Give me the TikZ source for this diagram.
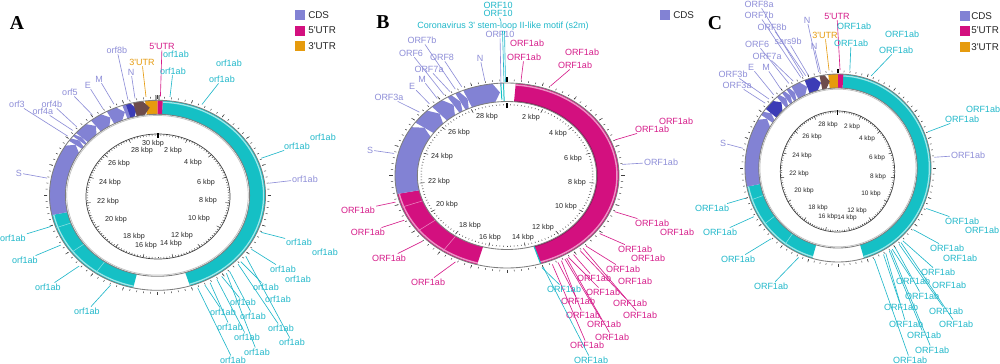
\documentclass[tikz,border=0pt]{standalone}
\usepackage{fontspec}
\setmainfont{Liberation Sans}
\newfontfamily\letterfont{Liberation Serif}
\usetikzlibrary{calc}
\definecolor{lav}{HTML}{8282D4}
\definecolor{lavT}{HTML}{8E8ED8}
\definecolor{cyn}{HTML}{15C0C5}
\definecolor{cynT}{HTML}{20B8CA}
\definecolor{mag}{HTML}{D3107F}
\definecolor{magT}{HTML}{D61C8A}
\definecolor{org}{HTML}{E69B0E}
\definecolor{brn}{HTML}{6D4C4C}
\definecolor{dkb}{HTML}{3C3CB6}
\definecolor{rimg}{HTML}{7E7E7E}
\tikzset{
 lbl/.style={font=\fontsize{6.4}{7}\selectfont, inner sep=0.6pt},
 kbp/.style={font=\fontsize{5.1}{6}\selectfont, text=black!85, inner sep=0pt},
 kbpc/.style={font=\fontsize{4.6}{5}\selectfont, text=black!85, inner sep=0pt},
 leader/.style={line width=0.45pt},
 tk/.style={line width=0.35pt, black!75},
 rimline/.style={draw=rimg, line width=0.6pt},
 legtxt/.style={font=\fontsize{7}{8}\selectfont, anchor=west, inner sep=0pt, text=black!85},
 legbox/.style={minimum size=2.5mm, inner sep=0pt},
 panel/.style={font=\letterfont\bfseries\fontsize{14}{16}\selectfont, inner sep=0pt},
}
\newcommand\bandseg[5]{\fill[#1] (#2:#4) arc[start angle=#2,end angle=#3,radius=#4] -- (#3:#5) arc[start angle=#3,end angle=#2,radius=#5] -- cycle;}
\newcommand\cdsseg[5]{%
 \pgfmathsetmacro\cdsS{#3+min(3.5,(#2-#3)*0.5)}%
 \pgfmathsetmacro\cdsM{(#4+#5)/2}%
 \fill[#1] (#2:#4) arc[start angle=#2,end angle=\cdsS,radius=#4] -- (#3:\cdsM) -- (\cdsS:#5) arc[start angle=\cdsS,end angle=#2,radius=#5] -- cycle;}
\newcommand\mylab[5]{\node[lbl,text=#4] (#1) at (#2,#3) {#5};}
\newcommand\myleadP[6]{\node[lbl,text=#4] (#1) at (#2,#3) {#5};
 \pgfmathsetmacro\ppx{\cx+\rrx*cos(#6)}\pgfmathsetmacro\ppy{\cy-\rry*sin(#6)}%
 \coordinate (#1r) at (\ppx,\ppy); \draw[leader,#4] (#1r) -- (#1);}
\newcommand\q{\textquotesingle}
\begin{document}
\begin{tikzpicture}[x=0.25mm,y=-0.25mm]
\useasboundingbox (0,0) rectangle (1000,363);
\fill[white] (0,0) rectangle (1000,363);

% ================= PANEL A =================
\begin{scope}[shift={(157.5,195.3)},xscale=1.137,yscale=-1]
\bandseg{cyn}{87.2}{-72.5}{95}{81}
\bandseg{cyn}{-103}{-168}{95}{81}
\draw[cyn!40!white,line width=0.9pt] (87.2:93.3) arc[start angle=87.2,end angle=-72.5,radius=93.3];
\draw[cyn!40!white,line width=0.9pt] (-103:93.3) arc[start angle=-103,end angle=-168,radius=93.3];
\foreach \a in {-125,-143,-160} \draw[cyn!50!white,line width=0.4pt] (\a:81) -- (\a:95);
\cdsseg{lav}{192}{145}{95}{81}
\cdsseg{lav}{145}{141.5}{95}{81}
\cdsseg{lav}{141.5}{139}{95}{81}
\cdsseg{lav}{139}{128}{95}{81}
\cdsseg{lav}{128}{118}{95}{81}
\cdsseg{lav}{118}{109}{95}{81}
\bandseg{lav}{109}{106.5}{95}{81}
\cdsseg{dkb}{107}{102}{95}{81}
\bandseg{org}{96.6}{90}{95}{81}
\cdsseg{brn}{103}{94.5}{95}{81}
\bandseg{mag}{90}{87.2}{95}{81}
\draw[rimline] (0,0) circle (95);
\draw[rimline] (0,0) circle (81);
\draw[black!25,line width=0.5pt] (0,0) circle (79.8);
\foreach \i in {0,...,99} \draw[tk] ({\i*3.6}:96.8) -- ({\i*3.6}:98.6);
\foreach \i in {0,...,19} \draw[tk] ({90-\i*18}:96.8) -- ({90-\i*18}:100);
\draw[black,line width=0.6pt] (89.2:95.5) -- (89.2:100) (90.8:95.5) -- (90.8:100);
\end{scope}
\begin{scope}[shift={(158,196.5)},xscale=1.152,yscale=-1]
\draw[black!75,line width=0.5pt] (0,0) circle (62.5);
\foreach \i in {0,...,149} \draw[tk] ({90-\i*2.4}:60.7) -- ({90-\i*2.4}:61.9);
\foreach \i in {0,...,14} \draw[tk] ({90-\i*24}:58.8) -- ({90-\i*24}:62.5);
\draw[black,line width=0.9pt] (90:59) -- (90:63.5);
\end{scope}
\node[kbp] (kA30) at (153,144) {30 kbp};
\node[kbp] (kA28) at (142,151) {28 kbp};
\node[kbp] (kA2) at (173,151) {2 kbp};
\node[kbp] (kA26) at (119,164) {26 kbp};
\node[kbp] (kA4) at (193,163) {4 kbp};
\node[kbp] (kA24) at (110,183) {24 kbp};
\node[kbp] (kA6) at (206,183) {6 kbp};
\node[kbp] (kA22) at (108,202) {22 kbp};
\node[kbp] (kA8) at (208,201) {8 kbp};
\node[kbp] (kA20) at (116,220) {20 kbp};
\node[kbp] (kA10) at (199,219) {10 kbp};
\node[kbp] (kA18) at (134,237) {18 kbp};
\node[kbp] (kA12) at (182,236) {12 kbp};
\node[kbp] (kA16) at (146,246) {16 kbp};
\node[kbp] (kA14) at (171,244) {14 kbp};

\def\cx{157.5}\def\cy{195.3}\def\rrx{112}\def\rry{99}
\myleadP{a1}{117}{50}{lavT}{orf8b}{105.3}
\myleadP{a2}{131}{72}{lavT}{N}{101.6}
\myleadP{a3}{142}{62}{org}{3\q UTR}{95.9}
\myleadP{a4}{162}{46}{magT}{5\q UTR}{88.5}
\mylab{a5}{176}{54}{cynT}{orf1ab}
\myleadP{a6}{173}{71}{cynT}{orf1ab}{83.6}
\mylab{a7}{229}{63}{cynT}{orf1ab}
\myleadP{a8}{222}{79}{cynT}{orf1ab}{66.6}
\mylab{a9}{323}{137}{cynT}{orf1ab}
\myleadP{a10}{297}{146}{cynT}{orf1ab}{22}
\myleadP{a11}{305}{179}{lavT}{orf1ab}{7}
\myleadP{a12}{19}{173}{lavT}{S}{170}
\myleadP{a13}{17}{104}{lavT}{orf3}{143.3}
\myleadP{a14}{43}{111}{lavT}{orf4a}{139.1}
\myleadP{a15}{52}{104}{lavT}{orf4b}{136.2}
\myleadP{a16}{70}{92}{lavT}{orf5}{125.6}
\myleadP{a17}{88}{85}{lavT}{E}{119.1}
\myleadP{a18}{99}{79}{lavT}{M}{112.9}
\myleadP{a19}{13}{238}{cynT}{orf1ab}{198.3}
\myleadP{a20}{25}{260}{cynT}{orf1ab}{210.2}
\myleadP{a21}{48}{287}{cynT}{orf1ab}{225.6}
\myleadP{a22}{87}{311}{cynT}{orf1ab}{245.2}
\myleadP{a23}{299}{242}{cynT}{orf1ab}{-22}
\mylab{a24}{325}{252}{cynT}{orf1ab}
\myleadP{a25}{283}{269}{cynT}{orf1ab}{-33}
\mylab{a26}{298}{279}{cynT}{orf1ab}
\myleadP{a27}{266}{287}{cynT}{orf1ab}{-42}
\mylab{a28}{278}{299}{cynT}{orf1ab}
\myleadP{a29}{243}{302}{cynT}{orf1ab}{-55}
\myleadP{a30}{253}{316}{cynT}{orf1ab}{-50}
\myleadP{a31}{281}{328}{cynT}{orf1ab}{-44}
\myleadP{a32}{292}{342}{cynT}{orf1ab}{-38}
\myleadP{a33}{223}{312}{cynT}{orf1ab}{-65}
\myleadP{a34}{230}{327}{cynT}{orf1ab}{-62}
\myleadP{a35}{247}{337}{cynT}{orf1ab}{-58}
\myleadP{a36}{257}{352}{cynT}{orf1ab}{-52}
\myleadP{a37}{233}{360}{cynT}{orf1ab}{-69}

\node[panel] (pA) at (17,23) {A};
\node[legbox,fill=lav] (lA1) at (299.5,15) {};
\node[legbox,fill=mag] (lA2) at (299.5,30.5) {};
\node[legbox,fill=org] (lA3) at (299.5,46) {};
\node[legtxt] (tA1) at (308,15) {CDS};
\node[legtxt] (tA2) at (308,30.5) {5\q UTR};
\node[legtxt] (tA3) at (308,46) {3\q UTR};

% ================= PANEL B =================
\begin{scope}[shift={(507,175.5)},xscale=1.211,yscale=-1]
\bandseg{mag}{85.5}{-72.5}{92.5}{74}
\bandseg{mag}{-105.5}{-168.5}{92.5}{74}
\draw[mag!45!white,line width=1pt] (85.5:90.8) arc[start angle=85.5,end angle=-72.5,radius=90.8];
\draw[mag!45!white,line width=1pt] (-105.5:90.8) arc[start angle=-105.5,end angle=-168.5,radius=90.8];
\draw[mag!70!black,line width=0.6pt] (85.5:74.6) arc[start angle=85.5,end angle=-72.5,radius=74.6];
\foreach \a in {-125,-143,-160} \draw[mag!50!white,line width=0.4pt] (\a:74) -- (\a:92.5);
\draw[cyn,line width=0.8pt] (-72.5:74) -- (-72.5:92.5);
\cdsseg{lav}{191.5}{145}{92.5}{74}
\cdsseg{lav}{145}{132}{92.5}{74}
\cdsseg{lav}{132}{122}{92.5}{74}
\cdsseg{lav}{122}{117.5}{92.5}{74}
\cdsseg{lav}{117.5}{113}{92.5}{74}
\cdsseg{lav}{113}{94}{92.5}{74}
\draw[cyn,line width=0.7pt] (93.2:76) -- (93.2:92.5) (91.8:74) -- (91.8:92.5);
\draw[rimline] (0,0) circle (92.5);
\draw[rimline] (0,0) circle (74);
\foreach \i in {0,...,99} \draw[tk] ({\i*3.6}:94.3) -- ({\i*3.6}:96);
\foreach \i in {0,...,19} \draw[tk] ({90-\i*18}:94.3) -- ({90-\i*18}:97.5);
\draw[black,line width=1pt] (90:94) -- (90:99);
\foreach \i in {0,...,149} \draw[tk] ({90-\i*2.4}:70.2) -- ({90-\i*2.4}:71.4);
\foreach \i in {0,...,14} \draw[tk] ({90-\i*24}:68.5) -- ({90-\i*24}:72.5);
\draw[black,line width=1pt] (90:67.5) -- (90:73);
\end{scope}
\node[kbp] (kB28) at (487,117) {28 kbp};
\node[kbp] (kB2) at (531,118) {2 kbp};
\node[kbp] (kB26) at (459,133) {26 kbp};
\node[kbp] (kB4) at (558,134) {4 kbp};
\node[kbp] (kB24) at (442,157) {24 kbp};
\node[kbp] (kB6) at (573,159) {6 kbp};
\node[kbp] (kB22) at (439,182) {22 kbp};
\node[kbp] (kB8) at (577,183) {8 kbp};
\node[kbp] (kB20) at (447,205) {20 kbp};
\node[kbp] (kB10) at (566,207) {10 kbp};
\node[kbp] (kB18) at (470,226) {18 kbp};
\node[kbp] (kB12) at (543,228) {12 kbp};
\node[kbp] (kB16) at (490,238) {16 kbp};
\node[kbp] (kB14) at (523,238) {14 kbp};

\def\cx{507}\def\cy{175.5}\def\rrx{116}\def\rry{96.5}
\mylab{b1}{498}{5}{cynT}{ORF10}
\mylab{b2}{498}{13.5}{cynT}{ORF10}
\mylab{b3}{503}{26.5}{cynT}{Coronavirus 3\q\ stem-loop II-like motif (s2m)}
\draw[leader,cynT] (b2) -- (b3);
\mylab{b4}{500}{34}{lavT}{ORF10}
\coordinate (b3r) at (504,82);
\coordinate (b3q) at (505.5,82);
\coordinate (b3s) at (502.5,31);
\coordinate (b3t) at (504.5,31);
\draw[leader,cynT] (b3s) -- (b3r);
\draw[leader,cynT] (b3t) -- (b3q);
\coordinate (b4r) at (501,86);
\draw[leader,lavT] (b4) -- (b4r);
\mylab{b5}{527}{43}{magT}{ORF1ab}
\myleadP{b6}{524}{57}{magT}{ORF1ab}{83}
\mylab{b7}{582}{52}{magT}{ORF1ab}
\myleadP{b8}{575}{65}{magT}{ORF1ab}{68}
\mylab{b9}{676}{121}{magT}{ORF1ab}
\myleadP{b10}{652}{129}{magT}{ORF1ab}{21.6}
\myleadP{b11}{661}{162}{lavT}{ORF1ab}{6.6}
\myleadP{b12}{422}{40}{lavT}{ORF7b}{116.5}
\myleadP{b13}{411}{53}{lavT}{ORF6}{123}
\myleadP{b14}{442}{57}{lavT}{ORF8}{113}
\myleadP{b15}{429}{69}{lavT}{ORF7a}{119.5}
\myleadP{b16}{422}{79}{lavT}{M}{127}
\myleadP{b17}{412}{86}{lavT}{E}{132}
\myleadP{b18}{389}{97}{lavT}{ORF3a}{139}
\myleadP{b19}{480}{58}{lavT}{N}{101}
\myleadP{b20}{370}{150}{lavT}{S}{166.8}
\myleadP{b21}{358}{210}{magT}{ORF1ab}{196}
\myleadP{b22}{368}{232}{magT}{ORF1ab}{207.6}
\myleadP{b23}{389}{258}{magT}{ORF1ab}{223}
\myleadP{b24}{428}{282}{magT}{ORF1ab}{243.6}
\myleadP{b25}{652}{223}{magT}{ORF1ab}{-22}
\mylab{b26}{677}{232}{magT}{ORF1ab}
\myleadP{b27}{635}{249}{magT}{ORF1ab}{-37}
\mylab{b28}{648}{258}{magT}{ORF1ab}
\myleadP{b29}{623}{269}{magT}{ORF1ab}{-47}
\mylab{b30}{635}{281}{magT}{ORF1ab}
\myleadP{b31}{594}{278}{magT}{ORF1ab}{-55}
\myleadP{b32}{603}{292}{magT}{ORF1ab}{-58}
\myleadP{b33}{630}{303}{magT}{ORF1ab}{-51}
\myleadP{b34}{640}{315}{magT}{ORF1ab}{-49}
\myleadP{b35}{578}{301}{magT}{ORF1ab}{-64}
\myleadP{b36}{583}{315}{magT}{ORF1ab}{-62}
\myleadP{b37}{604}{324}{magT}{ORF1ab}{-60}
\myleadP{b38}{612}{337}{magT}{ORF1ab}{-59}
\myleadP{b39}{587}{345}{magT}{ORF1ab}{-67}
\myleadP{b40}{564}{289}{cynT}{ORF1ab}{-72.5}
\myleadP{b41}{591}{360}{cynT}{ORF1ab}{-71.8}

\node[panel] (pB) at (383,22) {B};
\node[legbox,fill=lav] (lB1) at (665,15) {};
\node[legtxt] (tB1) at (673,15) {CDS};

% ================= PANEL C =================
\begin{scope}[shift={(838,168)},xscale=0.99,yscale=-1]
\bandseg{cyn}{86.7}{-73.8}{94}{80}
\bandseg{cyn}{-106}{-168.5}{94}{80}
\draw[cyn!40!white,line width=0.9pt] (86.7:92.3) arc[start angle=86.7,end angle=-73.8,radius=92.3];
\draw[cyn!40!white,line width=0.9pt] (-106:92.3) arc[start angle=-106,end angle=-168.5,radius=92.3];
\foreach \a in {-125,-143,-160} \draw[cyn!50!white,line width=0.4pt] (\a:80) -- (\a:94);
\cdsseg{lav}{191.5}{145.6}{94}{80}
\cdsseg{lav}{145.6}{141}{94}{80}
\cdsseg{dkb}{141}{131}{94}{80}
\cdsseg{lav}{131}{127}{94}{80}
\cdsseg{lav}{127}{123.5}{94}{80}
\cdsseg{lav}{123.5}{120}{94}{80}
\cdsseg{lav}{120}{111}{94}{80}
\cdsseg{dkb}{111}{101.4}{94}{80}
\bandseg{org}{96}{90}{94}{80}
\cdsseg{brn}{101.4}{95.5}{94}{80}
\bandseg{mag}{90}{86.7}{94}{80}
\draw[rimline] (0,0) circle (94);
\draw[rimline] (0,0) circle (80);
\draw[black!25,line width=0.5pt] (0,0) circle (78.8);
\foreach \i in {0,...,99} \draw[tk] ({\i*3.6}:95.8) -- ({\i*3.6}:97.6);
\foreach \i in {0,...,19} \draw[tk] ({90-\i*18}:95.8) -- ({90-\i*18}:99);
\draw[black,line width=0.8pt] (90:95) -- (90:99.5);
\end{scope}
\begin{scope}[shift={(837.5,171.5)},xscale=0.945,yscale=-1]
\draw[black!75,line width=0.5pt] (0,0) circle (60.5);
\foreach \i in {0,...,149} \draw[tk] ({90-\i*2.4}:58.7) -- ({90-\i*2.4}:59.9);
\foreach \i in {0,...,14} \draw[tk] ({90-\i*24}:56.8) -- ({90-\i*24}:60.5);
\draw[black,line width=0.9pt] (90:57) -- (90:61.5);
\end{scope}
\node[kbpc] (kC28) at (828,125) {28 kbp};
\node[kbpc] (kC2) at (852,127) {2 kbp};
\node[kbpc] (kC26) at (812,137) {26 kbp};
\node[kbpc] (kC4) at (867,139) {4 kbp};
\node[kbpc] (kC24) at (802,156) {24 kbp};
\node[kbpc] (kC6) at (877,158) {6 kbp};
\node[kbpc] (kC22) at (799,174) {22 kbp};
\node[kbpc] (kC8) at (878,177) {8 kbp};
\node[kbpc] (kC20) at (804,191) {20 kbp};
\node[kbpc] (kC10) at (871,194) {10 kbp};
\node[kbpc] (kC18) at (818,208) {18 kbp};
\node[kbpc] (kC12) at (857,211) {12 kbp};
\node[kbpc] (kC16) at (828,217) {16 kbp};
\node[kbpc] (kC14) at (847,218) {14 kbp};

\def\cx{838}\def\cy{168}\def\rrx{97}\def\rry{98}
\myleadP{c1}{759}{4}{lavT}{ORF8a}{111}
\myleadP{c2}{759}{15}{lavT}{ORF7b}{112.5}
\myleadP{c3}{772}{27}{lavT}{ORF8b}{109.5}
\myleadP{c4}{788}{41}{lavT}{sars9b}{108}
\myleadP{c5}{757}{44}{lavT}{ORF6}{120.4}
\myleadP{c6}{767}{56}{lavT}{ORF7a}{117.5}
\myleadP{c7}{751}{67}{lavT}{E}{131.6}
\myleadP{c8}{766}{67}{lavT}{M}{126.2}
\myleadP{c9}{733}{74}{lavT}{ORF3b}{135.3}
\myleadP{c10}{737}{85}{lavT}{ORF3a}{138.6}
\myleadP{c11}{723}{143}{lavT}{S}{168.4}
\myleadP{c12}{807}{20}{lavT}{N}{101.5}
\myleadP{c13}{814}{46}{lavT}{N}{100.5}
\myleadP{c14}{825}{35}{org}{3\q UTR}{95.3}
\myleadP{c15}{837}{16}{magT}{5\q UTR}{88.8}
\mylab{c16}{854}{26}{cynT}{ORF1ab}
\myleadP{c17}{851}{43}{cynT}{ORF1ab}{83}
\mylab{c18}{902}{34}{cynT}{ORF1ab}
\myleadP{c19}{896}{50}{cynT}{ORF1ab}{70}
\mylab{c20}{983}{109}{cynT}{ORF1ab}
\myleadP{c21}{962}{119}{cynT}{ORF1ab}{21.7}
\myleadP{c22}{968}{155}{lavT}{ORF1ab}{6.3}
\myleadP{c23}{712}{208}{cynT}{ORF1ab}{197.9}
\myleadP{c24}{720}{232}{cynT}{ORF1ab}{209.8}
\myleadP{c25}{738}{259}{cynT}{ORF1ab}{226.3}
\myleadP{c26}{771}{286}{cynT}{ORF1ab}{246}
\myleadP{c27}{962}{221}{cynT}{ORF1ab}{-24.4}
\mylab{c28}{982}{230}{cynT}{ORF1ab}
\myleadP{c29}{947}{248}{cynT}{ORF1ab}{-39}
\mylab{c30}{960}{258}{cynT}{ORF1ab}
\myleadP{c31}{938}{272}{cynT}{ORF1ab}{-48}
\mylab{c32}{949}{285}{cynT}{ORF1ab}
\myleadP{c33}{913}{281}{cynT}{ORF1ab}{-56}
\myleadP{c34}{922}{296}{cynT}{ORF1ab}{-54}
\myleadP{c35}{946}{311}{cynT}{ORF1ab}{-51}
\myleadP{c36}{956}{324}{cynT}{ORF1ab}{-49.5}
\myleadP{c37}{901}{307}{cynT}{ORF1ab}{-62}
\myleadP{c38}{906}{324}{cynT}{ORF1ab}{-60.5}
\myleadP{c39}{924}{335}{cynT}{ORF1ab}{-58}
\myleadP{c40}{932}{350}{cynT}{ORF1ab}{-57}
\myleadP{c41}{910}{360}{cynT}{ORF1ab}{-68}

\node[panel] (pC) at (715,23) {C};
\node[legbox,fill=lav] (lC1) at (965,16) {};
\node[legbox,fill=mag] (lC2) at (965,30.5) {};
\node[legbox,fill=org] (lC3) at (965,47) {};
\node[legtxt] (tC1) at (971,16) {CDS};
\node[legtxt] (tC2) at (971,30.5) {5\q UTR};
\node[legtxt] (tC3) at (971,47) {3\q UTR};
\end{tikzpicture}
\end{document}
